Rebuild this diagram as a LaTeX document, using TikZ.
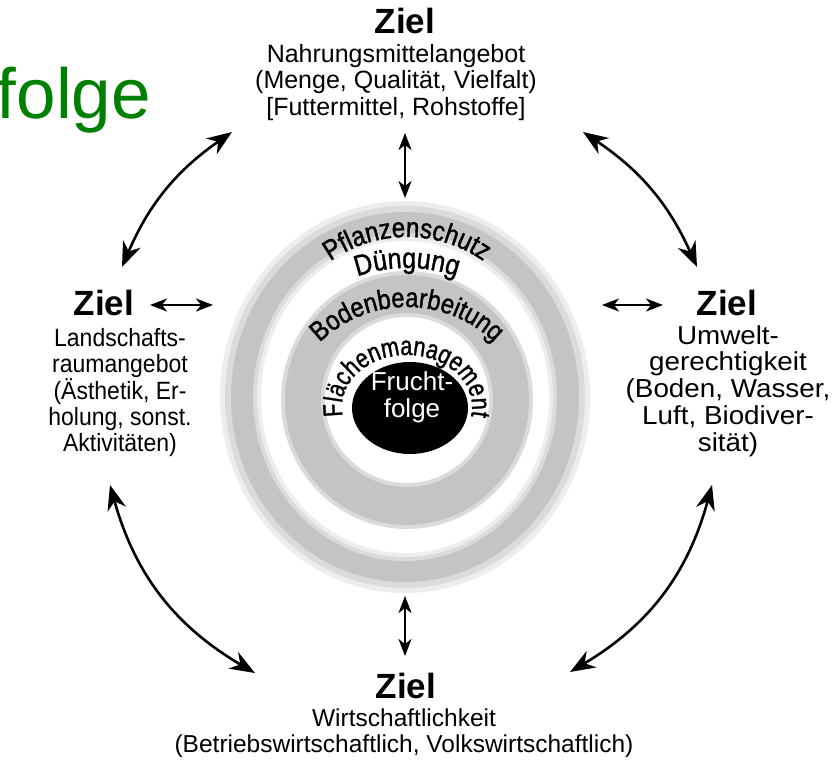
\documentclass[tikz,border=0pt]{standalone}
\usepackage{fontspec}
\setmainfont{Liberation Sans}
\newfontfamily\narrowsans[FakeStretch=0.92]{Liberation Sans}
\newfontfamily\widesans[FakeStretch=1.07]{Liberation Sans}
\newfontfamily\arcsans[FakeStretch=0.86,FakeBold=1.2]{Liberation Sans}
\newfontfamily\arcnarrow[FakeStretch=0.8,FakeBold=1.2]{Liberation Sans}
\usetikzlibrary{arrows.meta,decorations.text,shapes.geometric}
\definecolor{titlegreen}{RGB}{0,128,0}
\colorlet{ringgray}{black!23}
\colorlet{ringmid}{black!14}
\colorlet{ringlight}{black!7}
\begin{document}
\begin{tikzpicture}[x=1pt,y=1pt,
  bigarrow/.style={line width=2.6pt,
    {Stealth[length=25pt,width=19pt,inset=8pt]}-{Stealth[length=25pt,width=19pt,inset=8pt]}},
  smallarrow/.style={line width=2.3pt,
    {Stealth[length=17pt,width=13pt,inset=5pt]}-{Stealth[length=17pt,width=13pt,inset=5pt]}},
  ziel/.style={inner sep=0pt, font=\bfseries\fontsize{35}{35}\selectfont},
  desc/.style={inner sep=0pt, align=center, font=\fontsize{25}{26.5}\selectfont},
  arctext/.style={decorate, decoration={text along path, text align=center, text={#1}}},
]
\useasboundingbox (0,0) rectangle (832,-761);
\fill[white] (0,0) rectangle (832,-761);

% title fragment
\node[anchor=base east, inner sep=0pt, text=titlegreen,
      font=\fontsize{71}{71}\selectfont] (title) at (151,-118) {folge};

% rings (soft edged)
\fill[ringlight] (405,-397) ellipse[x radius=185, y radius=196];
\fill[ringmid]   (405,-397) ellipse[x radius=180, y radius=191];
\fill[ringgray]  (405,-397) ellipse[x radius=174, y radius=185];
\fill[ringmid]   (405,-397) ellipse[x radius=152, y radius=164];
\fill[ringlight] (405,-397) ellipse[x radius=148, y radius=160];
\fill[white]     (405,-397) ellipse[x radius=144, y radius=156];
\fill[ringmid]   (407,-400) ellipse[x radius=126, y radius=129];
\fill[ringgray]  (407,-400) ellipse[x radius=122, y radius=125];
\fill[ringmid]   (407,-400) ellipse[x radius=86, y radius=87];
\fill[white]     (407,-400) ellipse[x radius=82, y radius=83];

% core
\node[ellipse, fill=black, inner sep=0pt, minimum width=116pt, minimum height=92pt] (core) at (410,-408) {};
\node[inner sep=0pt, align=center, text=white, font=\fontsize{26}{27}\selectfont] (frucht) at (412,-397) {Frucht-\\folge};

% ring labels
\path[arctext={|\arcsans\fontsize{28}{28}\selectfont|Pflanzenschutz}]
  (407,-370) ++(140:133) arc[start angle=140, end angle=40, radius=133];
\path[arctext={|\arcsans\fontsize{29}{29}\selectfont|Düngung}]
  (407,-418) ++(115:150) arc[start angle=115, end angle=65, radius=150];
\path[arctext={|\arcsans\fontsize{27.5}{27.5}\selectfont|Bodenbearbeitung}]
  (407,-432) ++(145:125) arc[start angle=145, end angle=35, radius=125];
\path[arctext={|\arcnarrow\fontsize{27}{27}\selectfont|Flächenmanagement}]
  (407,-407) ++(192:65 and 52) arc[start angle=192, end angle=-12, x radius=65, y radius=52];

% goals
\node[ziel, anchor=base] (zT) at (405,-33) {Ziel};
\node[desc, anchor=north] (dT) at (396,-44)
  {Nahrungsmittelangebot\\(Menge, Qualität, Vielfalt)\\{[}Futtermittel, Rohstoffe{]}};

\node[ziel, anchor=base] (zL) at (104,-315) {Ziel};
\node[desc, anchor=north, font=\narrowsans\fontsize{25}{26}\selectfont] (dL) at (120,-328)
  {Landschafts-\\raumangebot\\(Ästhetik, Er-\\holung, sonst.\\Aktivitäten)};

\node[ziel, anchor=base] (zR) at (727,-315) {Ziel};
\node[desc, anchor=north, font=\widesans\fontsize{26}{26.75}\selectfont] (dR) at (728,-325)
  {Umwelt-\\gerechtigkeit\\(Boden, Wasser,\\Luft, Biodiver-\\sität)};

\node[ziel, anchor=base] (zB) at (406,-698) {Ziel};
\node[desc, anchor=north, font=\fontsize{24.5}{26}\selectfont] (dB) at (404,-709)
  {Wirtschaftlichkeit\\(Betriebswirtschaftlich, Volkswirtschaftlich)};

% arrow end points
\coordinate (tl1) at (232,-132); \coordinate (tl2) at (122,-267);
\coordinate (tr1) at (583,-132); \coordinate (tr2) at (697,-267);
\coordinate (bl1) at (110,-485); \coordinate (bl2) at (255,-673);
\coordinate (br1) at (712,-485); \coordinate (br2) at (570,-672);
\coordinate (vt1) at (405,-133); \coordinate (vt2) at (405,-198);
\coordinate (vb1) at (405,-596); \coordinate (vb2) at (405,-656);
\coordinate (hl1) at (150,-305); \coordinate (hl2) at (213,-305);
\coordinate (hr1) at (602,-305); \coordinate (hr2) at (663,-305);

\draw[bigarrow] (tl1) to[bend right=16] (tl2);
\draw[bigarrow] (tr1) to[bend left=16] (tr2);
\draw[bigarrow] (bl1) to[bend right=22] (bl2);
\draw[bigarrow] (br1) to[bend left=22] (br2);

\draw[smallarrow] (vt1) -- (vt2);
\draw[smallarrow] (vb1) -- (vb2);
\draw[smallarrow] (hl1) -- (hl2);
\draw[smallarrow] (hr1) -- (hr2);
\end{tikzpicture}
\end{document}
